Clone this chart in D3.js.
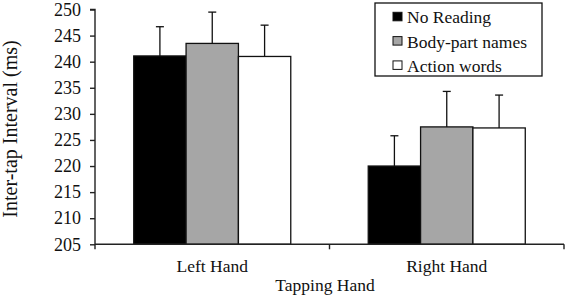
<!DOCTYPE html>
<html>
<head>
<meta charset="utf-8">
<script src="https://cdn.jsdelivr.net/npm/d3@7"></script>
<style>
  body { margin: 0; background: #fff; }
  text { font-family: "Liberation Serif", "Times New Roman", serif; fill: #111; }
</style>
</head>
<body>
<div id="chart"></div>
<script>
// data
var hands = ["Left Hand", "Right Hand"];
var series = ["No Reading", "Body-part names", "Action words"];
var leftMeans = [241.1, 243.5, 241.0];
var rightMeans = [220.0, 227.5, 227.3];
var leftErr = [5.6, 6.0, 6.0];
var rightErr = [5.8, 6.8, 6.3];
var yTicks = [205, 210, 215, 220, 225, 230, 235, 240, 245, 250];
var colors = ["#000000", "#a6a6a6", "#ffffff"];

var width = 567, height = 298;

var rows = [];
hands.forEach(function(h, i) {
  var m = i == 0 ? leftMeans : rightMeans;
  var e = i == 0 ? leftErr : rightErr;
  series.forEach(function(s, j) {
    rows.push({hand: h, series: s, mean: m[j], err: e[j]});
  });
});

var svg = d3.select("#chart").append("svg")
  .attr("width", width)
  .attr("height", height);

var x0 = d3.scaleBand().domain(hands).range([95, 564]);
var x1 = d3.scaleBand().domain(series).range([0, x0.bandwidth()])
  .paddingInner(0).paddingOuter(0.74);
var y = d3.scaleLinear().domain([205, 250]).range([244.3, 9.5]);
var color = d3.scaleOrdinal().domain(series).range(colors);

// bars
svg.selectAll(".bar")
  .data(rows)
  .enter().append("rect")
  .attr("class", "bar")
  .attr("x", function(d) { return x0(d.hand) + x1(d.series); })
  .attr("y", function(d) { return y(d.mean); })
  .attr("width", x1.bandwidth())
  .attr("height", function(d) { return y(205) - y(d.mean); })
  .attr("fill", function(d) { return color(d.series); })
  .attr("stroke", "#111")
  .attr("stroke-width", 1.3);

// error bars (upper only)
var eb = svg.selectAll(".err")
  .data(rows)
  .enter().append("g")
  .attr("class", "err")
  .attr("stroke", "#111")
  .attr("stroke-width", 1.3);
eb.append("line")
  .attr("x1", function(d) { return x0(d.hand) + x1(d.series) + x1.bandwidth() / 2; })
  .attr("x2", function(d) { return x0(d.hand) + x1(d.series) + x1.bandwidth() / 2; })
  .attr("y1", function(d) { return y(d.mean); })
  .attr("y2", function(d) { return y(d.mean + d.err); });
eb.append("line")
  .attr("x1", function(d) { return x0(d.hand) + x1(d.series) + x1.bandwidth() / 2 - 4; })
  .attr("x2", function(d) { return x0(d.hand) + x1(d.series) + x1.bandwidth() / 2 + 4; })
  .attr("y1", function(d) { return y(d.mean + d.err); })
  .attr("y2", function(d) { return y(d.mean + d.err); });

// y axis
var yAxis = svg.append("g")
  .attr("transform", "translate(95,0)")
  .call(d3.axisLeft(y).tickValues(yTicks).tickSize(5).tickPadding(9));
yAxis.selectAll("text").style("font-size", "18px").attr("fill", "#111");
yAxis.selectAll("line, path").attr("stroke", "#222").attr("stroke-width", 1.4);
yAxis.select(".domain").attr("d", "M0," + y(205) + "V" + y(250) + "H-5");

// x axis: ticks at category boundaries
var xAxis = svg.append("g").attr("transform", "translate(0," + y(205) + ")");
xAxis.append("line")
  .attr("x1", 95).attr("x2", 564)
  .attr("stroke", "#222").attr("stroke-width", 1.4);
xAxis.selectAll(".xt")
  .data([95, x0(hands[1]), 564])
  .enter().append("line")
  .attr("x1", function(d) { return d; })
  .attr("x2", function(d) { return d; })
  .attr("y1", 0).attr("y2", 5)
  .attr("stroke", "#222").attr("stroke-width", 1.4);
xAxis.selectAll(".xl")
  .data(hands)
  .enter().append("text")
  .attr("x", function(d) { return x0(d) + x0.bandwidth() / 2; })
  .attr("y", 28)
  .attr("text-anchor", "middle")
  .style("font-size", "17.5px")
  .text(function(d) { return d; });

// axis titles
svg.append("text")
  .attr("x", 325).attr("y", 291)
  .attr("text-anchor", "middle")
  .style("font-size", "17.5px")
  .text("Tapping Hand");
svg.append("text")
  .attr("transform", "translate(17,129) rotate(-90)")
  .attr("text-anchor", "middle")
  .style("font-size", "20px")
  .text("Inter-tap Interval (ms)");

// legend
var legend = svg.append("g");
legend.append("rect")
  .attr("x", 375).attr("y", 3)
  .attr("width", 167).attr("height", 73)
  .attr("fill", "#fff").attr("stroke", "#111").attr("stroke-width", 1.3);
var li = legend.selectAll(".li")
  .data(series)
  .enter().append("g")
  .attr("transform", function(d, i) { return "translate(393," + (23.3 + i * 24.3) + ")"; });
li.append("rect")
  .attr("x", 0).attr("y", -11)
  .attr("width", 9).attr("height", 8.5)
  .attr("fill", function(d) { return color(d); })
  .attr("stroke", "#111").attr("stroke-width", 1);
li.append("text")
  .attr("x", 14).attr("y", 0)
  .style("font-size", "17.5px")
  .text(function(d) { return d; });
</script>
</body>
</html>
